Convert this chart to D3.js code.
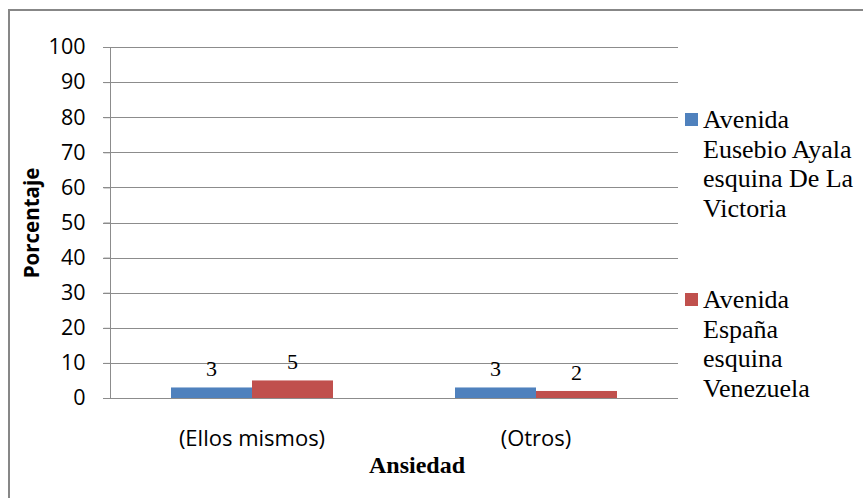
<!DOCTYPE html>
<html>
<head>
<meta charset="utf-8">
<script src="https://cdn.jsdelivr.net/npm/d3@7"></script>
<style>
  html, body { margin: 0; padding: 0; background: #fff; }
  svg { display: block; }
</style>
</head>
<body>
<svg id="chart" width="863" height="498"></svg>
<script>
// Anxiety responses by location (percent)
const categories = ["(Ellos mismos)", "(Otros)"];
const seriesNames = ["Avenida Eusebio Ayala esquina De La Victoria", "Avenida España esquina Venezuela"];
const seriesEusebio = [3, 3];
const seriesEspana = [5, 2];
const legendLines = [
  ["Avenida", "Eusebio Ayala", "esquina De La", "Victoria"],
  ["Avenida", "España", "esquina", "Venezuela"]
];
const yTicks = [0, 10, 20, 30, 40, 50, 60, 70, 80, 90, 100];
const colors = ["#4F81BD", "#C0504D"];

const SERIF = "Liberation Serif";
const SANS = "Open Sans";

const svg = d3.select("#chart");
const values = [seriesEusebio, seriesEspana];

const plot = { left: 110, right: 678, top: 47, bottom: 398 };
const groupWidth = 162;

// outer frame
svg.append("rect")
  .attr("x", 9).attr("y", 10)
  .attr("width", 900).attr("height", 520)
  .attr("fill", "none")
  .attr("stroke", "#878787")
  .attr("stroke-width", 2);

const y = d3.scaleLinear().domain([0, 100]).range([plot.bottom, plot.top]);
const x0 = d3.scaleBand().domain(categories).range([plot.left, plot.right]).padding(0);
const bw = x0.bandwidth();
const x1 = d3.scaleBand().domain(seriesNames)
  .range([(bw - groupWidth) / 2, (bw + groupWidth) / 2]).padding(0);

// horizontal gridlines
svg.append("g").selectAll("line")
  .data(yTicks)
  .join("line")
  .attr("x1", plot.left - 7).attr("x2", plot.right)
  .attr("y1", d => Math.round(y(d)) + 0.5).attr("y2", d => Math.round(y(d)) + 0.5)
  .attr("stroke", "#8c8c8c").attr("stroke-width", 1);

// y axis
const yAxis = d3.axisLeft(y).tickValues(yTicks).tickSize(7).tickPadding(18);
const gy = svg.append("g").attr("transform", `translate(${plot.left + 0.5},0)`).call(yAxis);
gy.select(".domain").attr("stroke", "#8c8c8c").attr("d", `M0,${plot.top}V${plot.bottom}`);
gy.selectAll(".tick line").attr("stroke", "#8c8c8c");
gy.selectAll(".tick text")
  .style("font-family", SANS)
  .style("font-size", "21.5px")
  .attr("fill", "#000");

// bars
const rows = categories.map((c, i) => ({ cat: c, vals: seriesNames.map((s, j) => ({ s, j, v: values[j][i] })) }));
const groups = svg.append("g").selectAll("g")
  .data(rows)
  .join("g")
  .attr("transform", d => `translate(${x0(d.cat)},0)`);

groups.selectAll("rect")
  .data(d => d.vals)
  .join("rect")
  .attr("x", d => x1(d.s))
  .attr("width", x1.bandwidth())
  .attr("y", d => y(d.v))
  .attr("height", d => y(0) - y(d.v))
  .attr("fill", d => colors[d.j]);

groups.selectAll("text")
  .data(d => d.vals)
  .join("text")
  .attr("x", d => x1(d.s) + x1.bandwidth() / 2)
  .attr("y", d => y(d.v) - 11)
  .attr("text-anchor", "middle")
  .style("font-family", SERIF)
  .style("font-size", "22px")
  .attr("fill", "#000")
  .text(d => d.v);

// category labels
svg.append("g").selectAll("text")
  .data(categories)
  .join("text")
  .attr("x", d => x0(d) + bw / 2)
  .attr("y", 446)
  .attr("text-anchor", "middle")
  .style("font-family", SANS)
  .style("font-size", "22px")
  .attr("fill", "#000")
  .text(d => d);

// axis titles
svg.append("text")
  .attr("x", 417).attr("y", 473)
  .attr("text-anchor", "middle")
  .style("font-family", SERIF)
  .style("font-weight", "bold")
  .style("font-size", "24px")
  .text("Ansiedad");

svg.append("text")
  .attr("transform", "translate(39,223) rotate(-90)")
  .attr("text-anchor", "middle")
  .style("font-family", SANS)
  .style("font-weight", "bold")
  .style("font-size", "20.5px")
  .text("Porcentaje");

// legend
const legendTop = [113, 293];
const legend = svg.append("g").selectAll("g")
  .data(seriesNames)
  .join("g")
  .attr("transform", (d, i) => `translate(685,${legendTop[i]})`);

legend.append("rect")
  .attr("width", 13).attr("height", 13)
  .attr("fill", (d, i) => colors[i]);

legend.each(function (d, i) {
  const t = d3.select(this).append("text")
    .style("font-family", SERIF)
    .style("font-size", "26px")
    .attr("fill", "#000");
  t.selectAll("tspan")
    .data(legendLines[i])
    .join("tspan")
    .attr("x", 18)
    .attr("y", (line, k) => 15 + k * 29.5)
    .text(line => line);
});
</script>
</body>
</html>
